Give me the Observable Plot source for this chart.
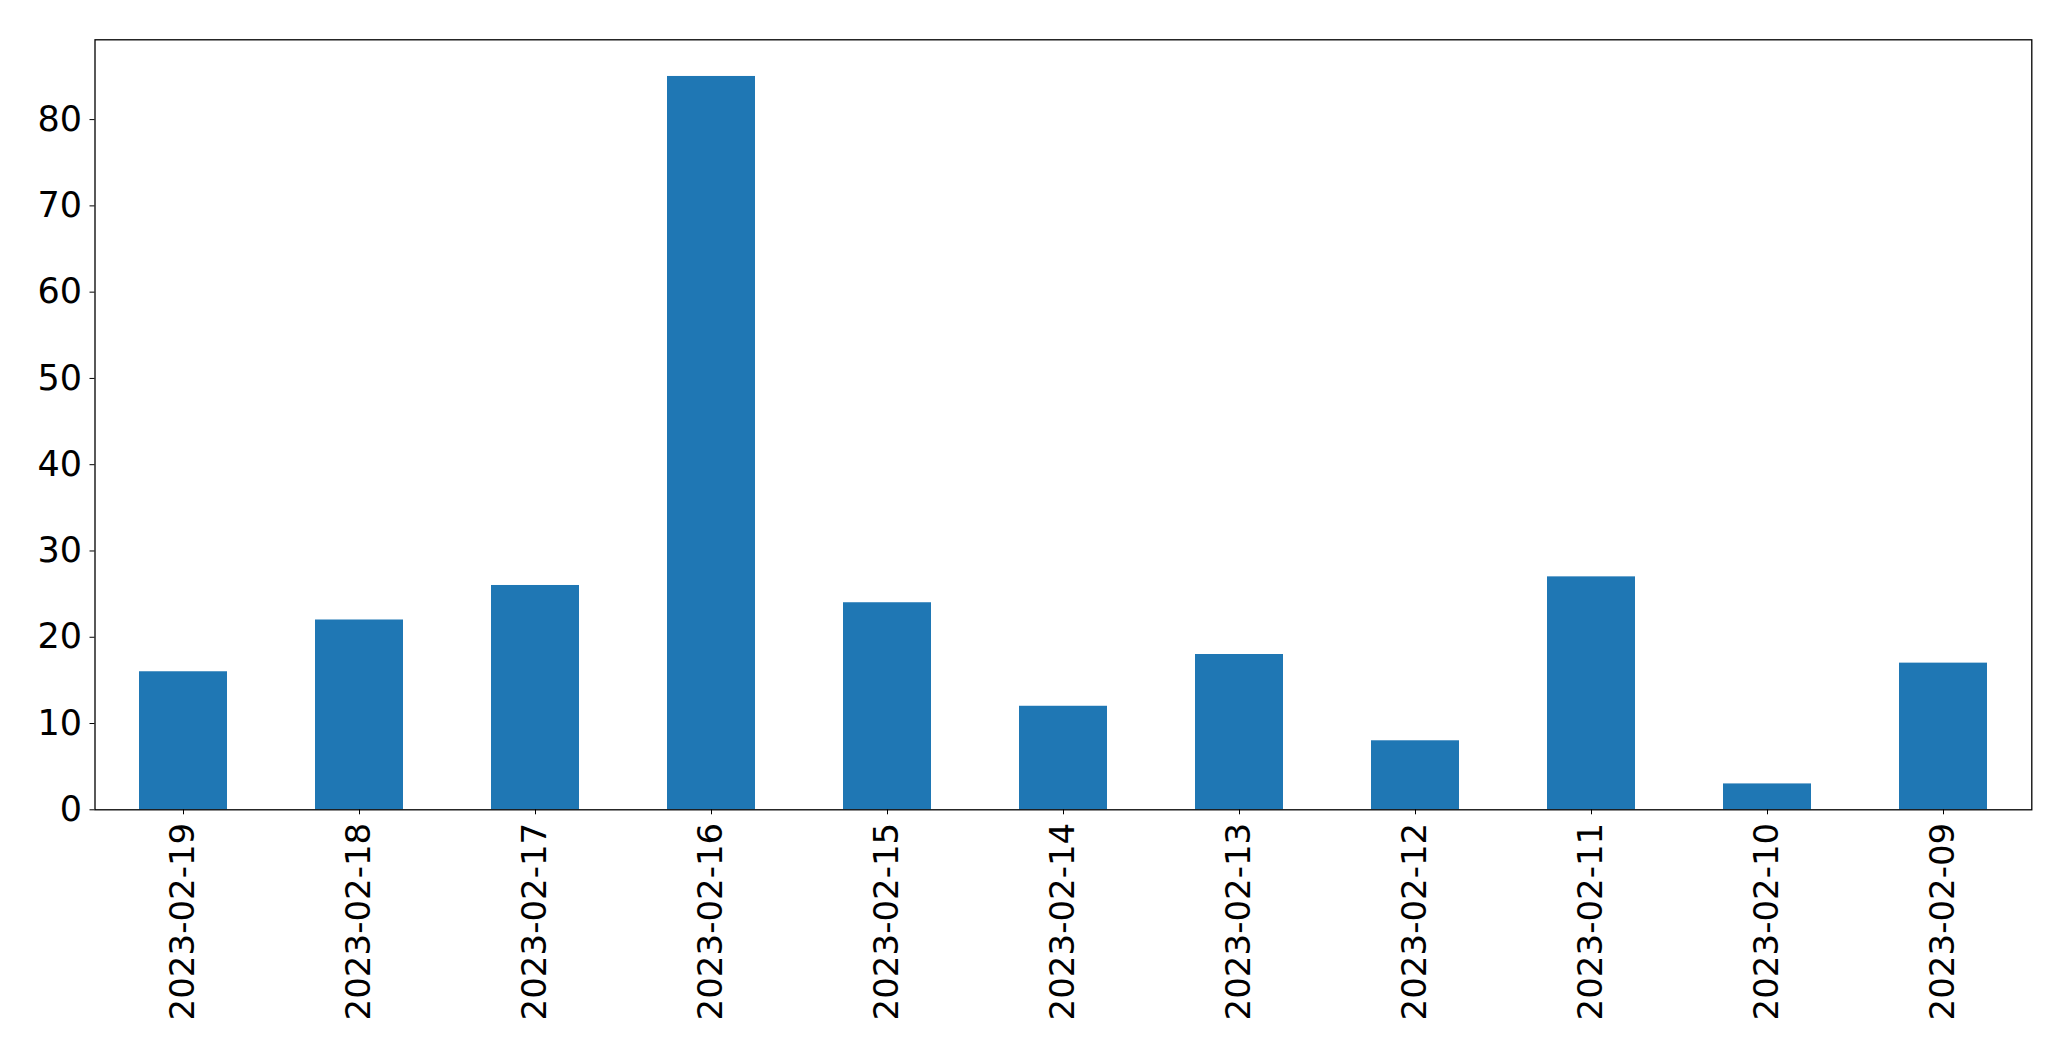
<!DOCTYPE html>
<html>
<head>
<meta charset="utf-8">
<script src="https://cdn.jsdelivr.net/npm/d3@7"></script>
<script src="https://cdn.jsdelivr.net/npm/@observablehq/plot@0.6"></script>
<style>
  html, body { margin: 0; padding: 0; background: #fff; }
  #chart svg { display: block; }
</style>
</head>
<body>
<div id="chart"></div>
<script>
const dates = ["2023-02-19","2023-02-18","2023-02-17","2023-02-16","2023-02-15","2023-02-14","2023-02-13","2023-02-12","2023-02-11","2023-02-10","2023-02-09"];
const counts = [16, 22, 26, 85, 24, 12, 18, 8, 27, 3, 17];
const yTicks = [0, 10, 20, 30, 40, 50, 60, 70, 80];

const data = dates.map((d, i) => ({date: d, count: counts[i]}));

const chart = Plot.plot({
  width: 2071,
  height: 1061,
  marginLeft: 94.5,
  marginTop: 39.3,
  marginRight: 39.7,
  marginBottom: 251.7,
  style: {fontFamily: "DejaVu Sans", fontSize: "35px", background: "#fff", color: "#000"},
  x: {type: "band", domain: dates, paddingInner: 0.5, paddingOuter: 0.25},
  y: {domain: [0, 89.25]},
  marks: [
    Plot.barY(data, {x: "date", y: "count", fill: "#1f77b4", inset: 0}),
    Plot.frame({stroke: "#000", strokeWidth: 1.3}),
    Plot.axisY({ticks: yTicks, tickSize: 5, tickPadding: 8, label: null, fontSize: 35}),
    Plot.axisX({tickSize: 5, tickPadding: 8, tickRotate: -90, label: null, fontSize: 34})
  ]
});
document.getElementById("chart").appendChild(chart);
</script>
</body>
</html>
